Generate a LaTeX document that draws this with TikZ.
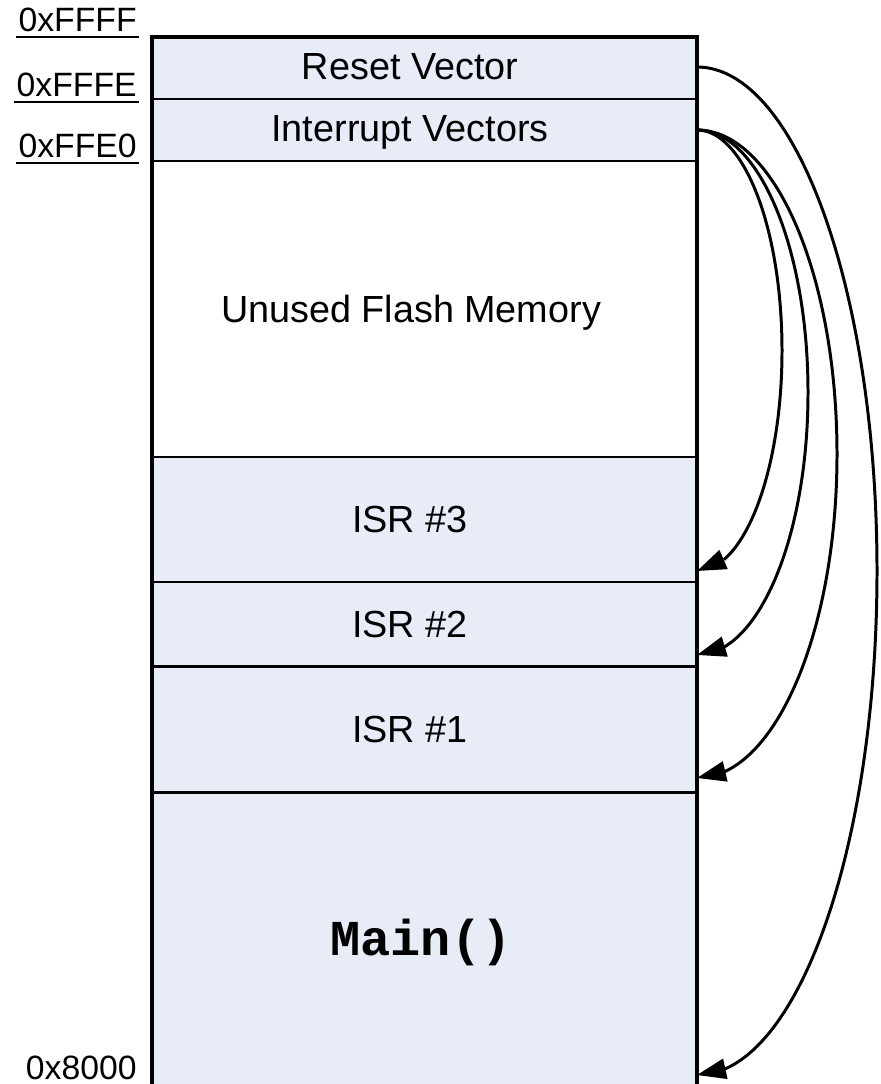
\documentclass[tikz,border=0pt]{standalone}
\usepackage{fontspec}
\setmainfont{Liberation Sans}
\newfontfamily\codefont{Liberation Mono}
\usetikzlibrary{arrows.meta,bending}

\definecolor{memfill}{RGB}{231,236,247}

% underlined address text, rule a little wider than the digits
\newlength\addrwd
\newcommand\ulined[1]{\settowidth\addrwd{#1}%
  \makebox[0pt][l]{\hspace{-1.5pt}\rule[-3.5pt]{\dimexpr\addrwd+3pt\relax}{1.4pt}}#1}

\begin{document}
\begin{tikzpicture}[x=0.02cm,y=-0.02cm,
  border/.style={line width=1.8pt, line join=miter},
  partition/.style={line width=1.7pt},
  region label/.style={font=\fontsize{21.5}{25}\selectfont, anchor=base, inner sep=0pt},
  code label/.style={font=\codefont\bfseries\fontsize{28.6}{32}\selectfont, anchor=base, inner sep=0pt},
  addr/.style={font=\fontsize{19.2}{22}\selectfont, anchor=base east, inner sep=0pt},
  vec/.style={line width=1.7pt, -{Triangle[length=16.5pt,width=11.5pt,flex]}},
]
\useasboundingbox (0,0) rectangle (880,1084);

% shaded memory regions (the unused block stays white)
\fill[memfill] (152,37) rectangle (697,161);
\fill[memfill] (152,457) rectangle (697,1084);

% partitions between regions
\foreach \yy in {99,161,457,582,666,792}
  \draw[partition] (152,\yy) -- (697,\yy);

% outline of the memory column, open at the bottom
\draw[border] (152,1084) -- (152,37) -- (697,37) -- (697,1084);

% region names
\node[region label] (rv)     at (410,80)  {Reset Vector};
\node[region label] (iv)     at (410,142) {Interrupt Vectors};
\node[region label] (unused) at (411,322) {Unused Flash Memory};
\node[region label] (isr3)   at (410,532) {ISR \#3};
\node[region label] (isr2)   at (410,637) {ISR \#2};
\node[region label] (isr1)   at (410,742) {ISR \#1};
\node[code label]   (main)   at (421,955) {Main()};

% addresses
\node[addr] (aFFFF) at (137,32)   {\ulined{0xFFFF}};
\node[addr] (aFFFE) at (137,97)   {\ulined{0xFFFE}};
\node[addr] (aFFE0) at (137,158)  {\ulined{0xFFE0}};
\node[addr] (a8000) at (137,1079) {0x8000};

% vector sources and targets on the right edge
\coordinate (rvout)  at (697,67);
\coordinate (ivout)  at (697,130);
\coordinate (isr3in) at (697,571);
\coordinate (isr2in) at (697,655);
\coordinate (isr1in) at (697,778);
\coordinate (mainin) at (697,1075);

% outermost points of the half-elliptic connectors
\coordinate (apex3) at (782,350.5);
\coordinate (apex2) at (808,392.5);
\coordinate (apex1) at (837,454);
\coordinate (apexm) at (877,571);

\draw[vec] (ivout) .. controls +(46.9,0) and +(0,-121.8) .. (apex3)
                   .. controls +(0,121.8) and +(46.9,0) .. (isr3in);
\draw[vec] (ivout) .. controls +(61.3,0) and +(0,-145.0) .. (apex2)
                   .. controls +(0,145.0) and +(61.3,0) .. (isr2in);
\draw[vec] (ivout) .. controls +(77.3,0) and +(0,-178.9) .. (apex1)
                   .. controls +(0,178.9) and +(77.3,0) .. (isr1in);
\draw[vec] (rvout) .. controls +(99.4,0) and +(0,-278.4) .. (apexm)
                   .. controls +(0,278.4) and +(99.4,0) .. (mainin);
\end{tikzpicture}
\end{document}
